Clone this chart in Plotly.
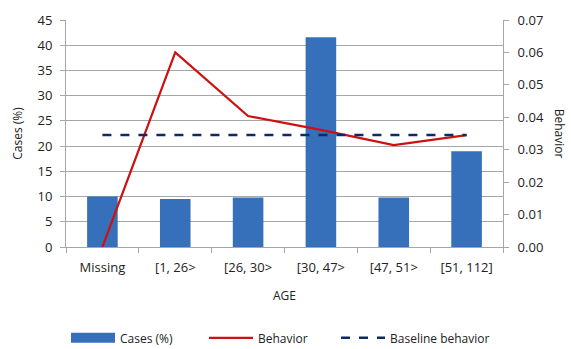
import plotly.graph_objects as go

# Age bands and the two measured series
age_bands = ["Missing", "[1, 26>", "[26, 30>", "[30, 47>", "[47, 51>", "[51, 112]"]
cases_pct = [10.0, 9.5, 9.8, 41.6, 9.8, 19.0]
behavior = [0.0, 0.060, 0.0404, 0.0361, 0.0314, 0.0345]
baseline_behavior = [0.0345] * len(age_bands)

left_ticks = list(range(0, 50, 5))
right_ticks = [i / 100 for i in range(0, 8)]

FONT = "Open Sans, Liberation Sans, sans-serif"
GRID = "#a6a6a6"
BAR_BLUE = "#3670bb"
W, H = 571, 349

fig = go.Figure()

fig.add_trace(go.Bar(
    x=age_bands, y=cases_pct, name="Cases (%)",
    marker=dict(color=BAR_BLUE, line=dict(width=0)),
    width=0.42, yaxis="y", showlegend=False,
))
# wide rectangular legend key for the bar series
fig.add_trace(go.Scatter(
    x=[None], y=[None], name="Cases (%)", mode="lines",
    line=dict(color=BAR_BLUE, width=10), yaxis="y", legend="legend",
))
fig.add_trace(go.Scatter(
    x=age_bands, y=behavior, name="Behavior", mode="lines",
    line=dict(color="#cc1111", width=2.2), yaxis="y2", legend="legend2",
))
fig.add_trace(go.Scatter(
    x=age_bands, y=baseline_behavior, name="Baseline behavior", mode="lines",
    line=dict(color="#0d2a66", width=2.5, dash="dash"), yaxis="y2", legend="legend3",
))


def legend_box(left_px):
    return dict(orientation="h", xref="container", yref="container",
                x=left_px / W, xanchor="left", y=0.032, yanchor="middle",
                font=dict(size=12), itemwidth=44, bgcolor="rgba(0,0,0,0)")


fig.update_layout(
    width=W, height=H,
    margin=dict(l=66, r=68, t=20, b=102, autoexpand=False),
    paper_bgcolor="white", plot_bgcolor="white",
    font=dict(family=FONT, size=12, color="#222222"),
    showlegend=True,
    legend=legend_box(66),
    legend2=legend_box(204),
    legend3=legend_box(336),
    xaxis=dict(
        title=dict(text="AGE", font=dict(size=12), standoff=17),
        showline=True, linecolor=GRID, linewidth=1,
        ticks="outside", tickson="boundaries", ticklen=5, tickcolor=GRID,
        tickfont=dict(size=13), showgrid=False, ticklabelstandoff=8,
    ),
    yaxis=dict(
        title=dict(text="Cases (%)", font=dict(size=12), standoff=12),
        range=[0, 45], tickvals=left_ticks,
        showline=True, linecolor=GRID, linewidth=1,
        ticks="outside", ticklen=5, tickcolor=GRID,
        showgrid=True, gridcolor=GRID, gridwidth=1,
        zeroline=False, tickfont=dict(size=13), ticklabelstandoff=5,
    ),
    yaxis2=dict(
        overlaying="y", side="right",
        range=[0, 0.07], tickvals=right_ticks, tickformat=".2f",
        showline=True, linecolor=GRID, linewidth=1,
        ticks="outside", ticklen=5, tickcolor=GRID,
        showgrid=False, zeroline=False, tickfont=dict(size=13),
        ticklabelstandoff=6,
    ),
    annotations=[dict(
        text="Behavior", textangle=90, xref="paper", yref="paper",
        x=1.13, y=0.5, xanchor="center", yanchor="middle",
        showarrow=False, font=dict(size=12),
    )],
)

fig.write_html("out.html")
